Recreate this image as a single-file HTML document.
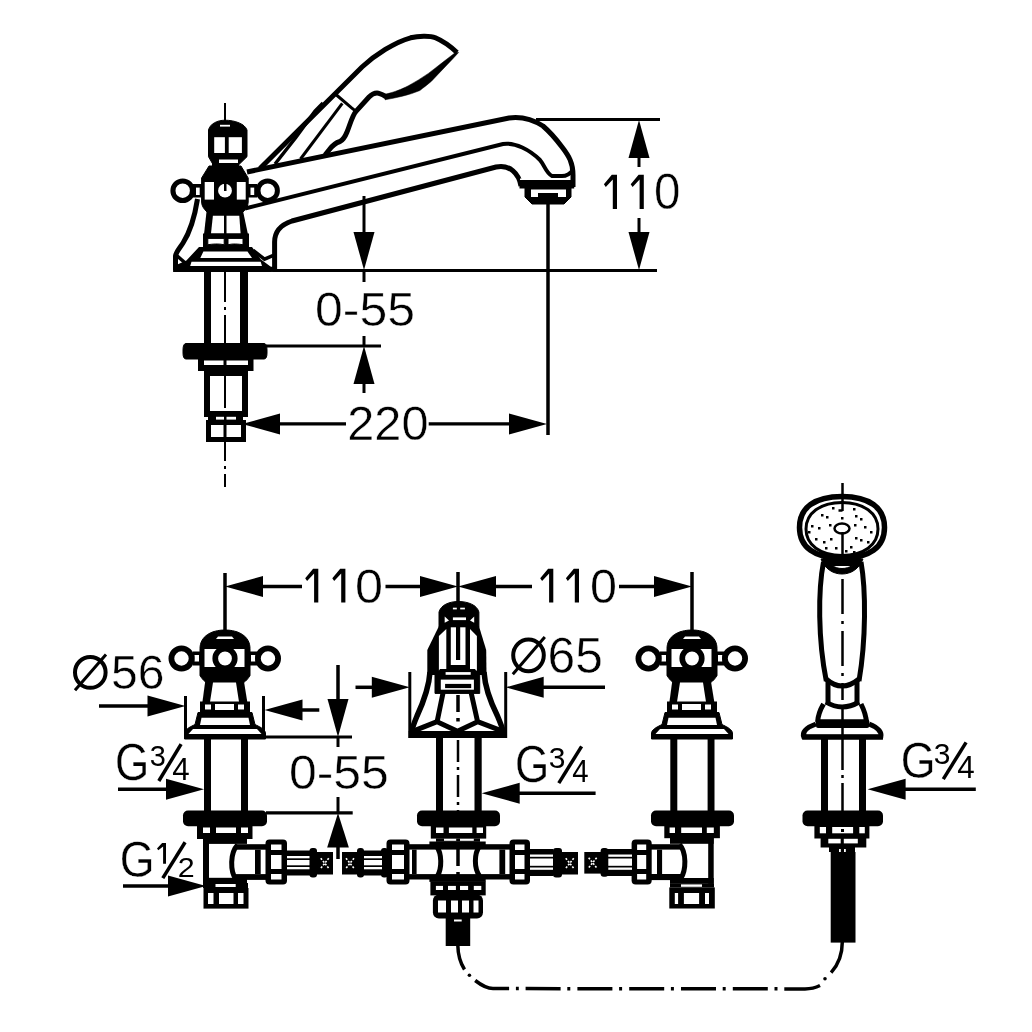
<!DOCTYPE html>
<html><head><meta charset="utf-8"><style>
html,body{margin:0;padding:0;background:#fff;width:1032px;height:1032px;overflow:hidden}
svg{display:block;will-change:transform}
text{font-family:"Liberation Sans",sans-serif;fill:#000;stroke:none}
</style></head><body>
<svg width="1032" height="1032" viewBox="0 0 1032 1032" stroke="#000" fill="none">
<line x1="225" y1="103" x2="225" y2="487" stroke-width="2" stroke-dasharray="40,5,3,5"/>
<path d="M208.5,156.7 L208.5,130 C210,124 217,120.2 225,120.2 C235,120.2 245,124 247,130 L247,156.7 L239,164.5 L213,164.5 Z" stroke-width="1" fill="#000" />
<rect x="214.2" y="137.2" width="10.700000000000017" height="15.800000000000011" fill="#fff" stroke="none"/>
<rect x="228.7" y="137.2" width="13.200000000000017" height="15.800000000000011" fill="#fff" stroke="none"/>
<rect x="220" y="124.8" width="10" height="1.7999999999999972" fill="#fff" stroke="none"/>
<rect x="212" y="158" width="27" height="10" fill="#000" stroke="none"/>
<rect x="219" y="159.5" width="19" height="3.5" fill="#fff" stroke="none"/>
<rect x="218" y="168.5" width="5" height="1.5" fill="#fff" stroke="none"/>
<rect x="227" y="168.5" width="5" height="1.5" fill="#fff" stroke="none"/>
<path d="M209,166 L241,166 L248.2,178 L248.2,202 C248.2,206 246,209 243,212 L207,212 C204,209 201.6,206 201.6,202 L201.6,178 Z" stroke-width="1" fill="#000" />
<rect x="204.7" y="182" width="9.300000000000011" height="17.599999999999994" fill="#fff" stroke="none"/>
<rect x="236.8" y="182" width="8.899999999999977" height="17.599999999999994" fill="#fff" stroke="none"/>
<circle cx="225" cy="190.7" r="6.9" fill="#fff" stroke="none"/>
<rect x="224" y="183" width="2.5" height="8" fill="#000" stroke="none"/>
<rect x="193" y="184" width="10" height="13.5" fill="#000" stroke="none"/>
<rect x="196" y="187.6" width="3.6999999999999886" height="7.400000000000006" fill="#fff" stroke="none"/>
<rect x="247" y="184" width="10" height="13.5" fill="#000" stroke="none"/>
<rect x="250.5" y="187.6" width="3.6999999999999886" height="7.400000000000006" fill="#fff" stroke="none"/>
<circle cx="182.7" cy="190.7" r="9.75" stroke-width="5.1000000000000005" fill="#fff"/>
<circle cx="267.7" cy="190.7" r="9.7" stroke-width="4.999999999999999" fill="#fff"/>
<polygon points="206.6,211 243,211 248,234.5 204,234.5" fill="#000" stroke="none"/>
<polygon points="212.9,215.7 239.3,215.7 240.6,233.4 211,233.4" fill="#fff" stroke="none"/>
<rect x="224" y="215" width="2.5" height="19" fill="#000" stroke="none"/>
<rect x="203" y="233.5" width="46" height="14.0" fill="#000" stroke="none"/>
<path d="M207.8,238.4 L224.2,238.4 L224.2,244.7 C218,243.5 213,244 207.8,244.7 Z" stroke-width="1" fill="#fff" />
<path d="M228,238.4 L243,238.4 L243,244.7 C238,244 233,243.5 228,244.7 Z" stroke-width="1" fill="#fff" />
<polygon points="199,247 252,247 260.7,259.2 270.8,266.8 272,272 173.2,272 174,266 186.4,260.5" fill="#000" stroke="none"/>
<polygon points="203.4,251.6 247.5,251.6 252,258 200.3,258" fill="#fff" stroke="none"/>
<polygon points="191.5,261.7 260.7,261.7 262,266.1 190.2,266.1" fill="#fff" stroke="none"/>
<path d="M197.5,199 C195,215 190,232 183,243 C179,249 176,252 175.5,256 L175.5,270" stroke-width="5" fill="none" />
<path d="M175.5,254.5 L187,264.5" stroke-width="3.5" fill="none" />
<path d="M274.6,272 L274.6,242 C274.6,233 280,225 292,221 L496,167 C510,164 519,174 521,186" stroke-width="5" fill="none" />
<path d="M253.2,250.4 L264.5,259.2 L273.3,255.4" stroke-width="3.5" fill="none" />
<line x1="173.2" y1="269.3" x2="277" y2="269.3" stroke-width="5" />
<line x1="276" y1="270.5" x2="657" y2="270.5" stroke-width="3" />
<path d="M247,172 L509,118 C520,116.5 532,119 543,126 C550,132 556,139 562,147 C569,156 573,163 573,175 L573,187" stroke-width="5" fill="none" />
<path d="M245,208.5 L503,144 C515,142 530,150 540,160 C545,166 546,173 552,176 L562,176 C566,176 570,174 573,170" stroke-width="4" fill="none" />
<rect x="519.5" y="180" width="54.700000000000045" height="8.5" fill="#000" stroke="none"/>
<path d="M525,188 L525,197 L532,204 L564,204 L571,197 L571,188 Z" stroke-width="1" fill="#000" />
<rect x="531" y="189.5" width="35" height="3.5" fill="#fff" stroke="none"/>
<rect x="531" y="193" width="7" height="4" fill="#fff" stroke="none"/>
<rect x="558" y="193" width="8" height="4" fill="#fff" stroke="none"/>
<rect x="520" y="178.5" width="50" height="1.5" fill="#fff" stroke="none"/>
<path d="M260,168.4 L362,67 C375,55 395,42 410.6,37.8 C418,36 430,35.5 435.4,37.8 C443,41 450,46 457,52.5" stroke-width="5" fill="none" />
<path d="M458.6,52.5 C450,62 440,72 431.5,81.2 C427,85 423,88 419.9,90.5 C410,95 395,98 385,99.8 L385,94.3 C395,92 402,89 408.3,85.8 C415,82 422,78 428.4,73.4 C438,66 447,59 455.4,52.5 Z" stroke-width="0.5" fill="#000" />
<path d="M387,97.2 C383,95 380,93 377,93 C373,93 371,95 369,97 L356,111.4 C352,116 350,125 347,132 C345,137 343,140 340,141.5 C335,143 332,146 329,150 L325,155" stroke-width="5" fill="none" />
<path d="M335.3,94 L351.6,107.9 L356,111.4" stroke-width="3" fill="none" />
<path d="M275,164 L296,137.3 L315,111.2 L323,103" stroke-width="3.5" fill="none" />
<path d="M300.5,159 L342.3,103.3" stroke-width="3" fill="none" />
<line x1="364" y1="196" x2="364" y2="232" stroke-width="3" />
<polygon points="364,270 353.5,232 374.5,232" fill="#000" stroke="none"/>
<line x1="364" y1="381" x2="364" y2="393" stroke-width="3" />
<line x1="364" y1="270" x2="364" y2="282" stroke-width="3" />
<line x1="364" y1="336" x2="364" y2="346" stroke-width="3" />
<polygon points="364,346 353.5,384 374.5,384" fill="#000" stroke="none"/>
<line x1="266" y1="346" x2="381" y2="346" stroke-width="3" />
<text transform="translate(315.00,325.82) scale(0.4995,0.4831)" font-size="100" stroke="#fff" stroke-width="0.92" style="stroke:#fff">0-55</text>
<line x1="536" y1="119.5" x2="660" y2="119.5" stroke-width="3" />
<line x1="639" y1="158" x2="639" y2="167" stroke-width="3" />
<line x1="639" y1="218" x2="639" y2="232" stroke-width="3" />
<polygon points="639,120 628.5,158 649.5,158" fill="#000" stroke="none"/>
<polygon points="639,270 628.5,232 649.5,232" fill="#000" stroke="none"/>
<polygon points="603.9,184.2 611.8,174.7 617.0,174.7 617.0,209.0 612.8,209.0 612.8,179.53 605.79,186.92999999999998" fill="#000" stroke="none"/>
<polygon points="630.7,184.2 638.6,174.7 643.8000000000001,174.7 643.8000000000001,209.0 639.6,209.0 639.6,179.53 632.59,186.92999999999998" fill="#000" stroke="none"/>
<text transform="translate(654.10,209.11) scale(0.4750,0.4915)" font-size="100" stroke="#fff" stroke-width="0.93" style="stroke:#fff">0</text>
<line x1="548" y1="194" x2="548" y2="435" stroke-width="3.5" />
<rect x="204" y="270" width="7" height="74" fill="#000" stroke="none"/>
<rect x="240" y="270" width="8" height="74" fill="#000" stroke="none"/>
<path d="M186,343.5 L264,343.5 Q267,343.5 267,350 L267,353 Q267,359 264,359 L186,359 Q183,359 183,353 L183,350 Q183,343.5 186,343.5 Z" stroke-width="1" fill="#000" />
<rect x="198" y="358" width="55.5" height="13" fill="#000" stroke="none"/>
<rect x="204" y="360.5" width="19.5" height="4.5" fill="#fff" stroke="none"/>
<rect x="226.5" y="360.5" width="21.5" height="4.5" fill="#fff" stroke="none"/>
<rect x="207.0" y="373.0" width="38" height="41" fill="none" stroke-width="6"/>
<rect x="208" y="416" width="35" height="5" fill="#000" stroke="none"/>
<rect x="216" y="416.8" width="8" height="2.8000000000000114" fill="#fff" stroke="none"/>
<rect x="226.5" y="416.8" width="9.5" height="2.8000000000000114" fill="#fff" stroke="none"/>
<rect x="208.5" y="422.5" width="35" height="17" fill="none" stroke-width="5"/>
<rect x="223.5" y="420" width="3.0" height="22" fill="#000" stroke="none"/>
<polygon points="242,424 280,413.5 280,434.5" fill="#000" stroke="none"/>
<polygon points="547,424 509,413.5 509,434.5" fill="#000" stroke="none"/>
<line x1="268" y1="423.8" x2="346" y2="423.8" stroke-width="3.2" />
<line x1="428.7" y1="423.8" x2="510" y2="423.8" stroke-width="3.2" />
<text transform="translate(347.26,440.22) scale(0.4873,0.4775)" font-size="100" stroke="#fff" stroke-width="0.93" style="stroke:#fff">220</text>
<path d="M200,675.5 L200,648.5 C200,636.5 211,630.0 225,630.0 C239,630.0 250,636.5 250,648.5 L250,675.5 C247,680.5 244,682.5 242,683.5 L208,683.5 C206,682.5 203,680.5 200,675.5 Z" stroke-width="1" fill="#000" />
<polygon points="218,636.5 232,636.5 234,639.0 216,639.0" fill="#fff" stroke="none"/>
<rect x="204.5" y="649.0" width="40.0" height="18.0" fill="#fff" stroke="none"/>
<circle cx="225" cy="658.5" r="9.75" stroke-width="5.699999999999999" fill="#fff"/>
<rect x="193" y="651.5" width="8" height="14.0" fill="#000" stroke="none"/>
<rect x="194.5" y="655.0" width="4.5" height="6.5" fill="#fff" stroke="none"/>
<rect x="249" y="651.5" width="8" height="14.0" fill="#000" stroke="none"/>
<rect x="251" y="655.0" width="4.5" height="6.5" fill="#fff" stroke="none"/>
<circle cx="181.5" cy="658.5" r="10.1" stroke-width="5.8" fill="#fff"/>
<circle cx="268" cy="658.5" r="10.1" stroke-width="5.8" fill="#fff"/>
<polygon points="206,675.5 243,675.5 249,712.5 201,712.5" fill="#000" stroke="none"/>
<polygon points="213,682.5 236,682.5 239,702.0 210,702.0" fill="#fff" stroke="none"/>
<rect x="200" y="701.5" width="50" height="11.0" fill="#000" stroke="none"/>
<rect x="205" y="704.5" width="6" height="5.0" fill="#fff" stroke="none"/>
<rect x="215" y="704.0" width="19" height="6.0" fill="#fff" stroke="none"/>
<rect x="238" y="704.5" width="6" height="5.0" fill="#fff" stroke="none"/>
<path d="M198,712.5 L252,712.5 L255,724.5 C259,726.5 264,728.5 265.5,732.5 L265.5,739.0 L184.5,739.0 L184.5,732.5 C186,728.5 191,726.5 195,724.5 Z" stroke-width="1" fill="#000" />
<polygon points="201.5,717.8 248.5,717.8 250,725.0 200,725.0" fill="#fff" stroke="none"/>
<polygon points="193,729.0 257,729.0 261.5,734.0 188.5,734.0" fill="#fff" stroke="none"/>
<path d="M667,675.5 L667,648.5 C667,636.5 678,630.0 692,630.0 C706,630.0 717,636.5 717,648.5 L717,675.5 C714,680.5 711,682.5 709,683.5 L675,683.5 C673,682.5 670,680.5 667,675.5 Z" stroke-width="1" fill="#000" />
<polygon points="685,636.5 699,636.5 701,639.0 683,639.0" fill="#fff" stroke="none"/>
<rect x="671.5" y="649.0" width="40.0" height="18.0" fill="#fff" stroke="none"/>
<circle cx="692" cy="658.5" r="9.75" stroke-width="5.699999999999999" fill="#fff"/>
<rect x="660" y="651.5" width="8" height="14.0" fill="#000" stroke="none"/>
<rect x="661.5" y="655.0" width="4.5" height="6.5" fill="#fff" stroke="none"/>
<rect x="716" y="651.5" width="8" height="14.0" fill="#000" stroke="none"/>
<rect x="718" y="655.0" width="4.5" height="6.5" fill="#fff" stroke="none"/>
<circle cx="648.5" cy="658.5" r="10.1" stroke-width="5.8" fill="#fff"/>
<circle cx="735" cy="658.5" r="10.1" stroke-width="5.8" fill="#fff"/>
<polygon points="673,675.5 710,675.5 716,712.5 668,712.5" fill="#000" stroke="none"/>
<polygon points="680,682.5 703,682.5 706,702.0 677,702.0" fill="#fff" stroke="none"/>
<rect x="667" y="701.5" width="50" height="11.0" fill="#000" stroke="none"/>
<rect x="672" y="704.5" width="6" height="5.0" fill="#fff" stroke="none"/>
<rect x="682" y="704.0" width="19" height="6.0" fill="#fff" stroke="none"/>
<rect x="705" y="704.5" width="6" height="5.0" fill="#fff" stroke="none"/>
<path d="M665,712.5 L719,712.5 L722,724.5 C726,726.5 731,728.5 732.5,732.5 L732.5,739.0 L651.5,739.0 L651.5,732.5 C653,728.5 658,726.5 662,724.5 Z" stroke-width="1" fill="#000" />
<polygon points="668.5,717.8 715.5,717.8 717,725.0 667,725.0" fill="#fff" stroke="none"/>
<polygon points="660,729.0 724,729.0 728.5,734.0 655.5,734.0" fill="#fff" stroke="none"/>
<rect x="204" y="738" width="7" height="73" fill="#000" stroke="none"/>
<rect x="241" y="738" width="7" height="73" fill="#000" stroke="none"/>
<rect x="183" y="810.5" width="84" height="15.799999999999955" rx="5" fill="#000" stroke="none"/>
<rect x="197" y="826" width="55.5" height="13" fill="#000" stroke="none"/>
<rect x="203" y="827.5" width="7" height="5.5" fill="#fff" stroke="none"/>
<rect x="216" y="827.5" width="20" height="5.5" fill="#fff" stroke="none"/>
<rect x="241" y="827.5" width="7" height="5.5" fill="#fff" stroke="none"/>
<rect x="203" y="838.8" width="44" height="5.100000000000023" fill="#000" stroke="none"/>
<rect x="203" y="877.8" width="44" height="5.800000000000068" fill="#000" stroke="none"/>
<rect x="203" y="838.8" width="6" height="44.80000000000007" fill="#000" stroke="none"/>
<rect x="203" y="883" width="45" height="5" fill="#000" stroke="none"/>
<rect x="215.5" y="884" width="20.19999999999999" height="3" fill="#fff" stroke="none"/>
<rect x="203.5" y="888" width="45.0" height="20.600000000000023" fill="#000" stroke="none"/>
<rect x="208" y="893" width="5.5" height="11" fill="#fff" stroke="none"/>
<rect x="219" y="893" width="14.5" height="11" fill="#fff" stroke="none"/>
<rect x="238" y="893" width="5.5" height="11" fill="#fff" stroke="none"/>
<rect x="235" y="844.2" width="31" height="5.5" fill="#000" stroke="none"/>
<rect x="235" y="874.1" width="31" height="5.7999999999999545" fill="#000" stroke="none"/>
<path d="M237.5,845 C230,853 230,871 236,879.5" stroke-width="5" fill="none" />
<rect x="255" y="849.7" width="5.699999999999989" height="24.399999999999977" fill="#000" stroke="none"/>
<rect x="265.5" y="839.5" width="21.5" height="45.0" rx="4" fill="#000" stroke="none"/>
<rect x="271.0" y="844.5" width="10.5" height="5.5" fill="#fff" stroke="none"/>
<rect x="271.0" y="855.0" width="10.5" height="14.0" fill="#fff" stroke="none"/>
<rect x="271.0" y="874.0" width="10.5" height="5.5" fill="#fff" stroke="none"/>
<rect x="287" y="850.5" width="23" height="25.0" fill="#000" stroke="none"/>
<rect x="287" y="856.0" width="23" height="2.2999999999999545" fill="#fff" stroke="none"/>
<rect x="287" y="860.0" width="23" height="5.2999999999999545" fill="#fff" stroke="none"/>
<rect x="287" y="867.0" width="23" height="2.2999999999999545" fill="#fff" stroke="none"/>
<rect x="309.5" y="848" width="7.5" height="29.5" rx="3" fill="#000" stroke="none"/>
<rect x="316.5" y="852" width="16.5" height="22.5" fill="#000" stroke="none"/>
<path d="M320.75,858.25 L328.75,868.25 M328.75,858.25 L320.75,868.25" stroke="#fff" stroke-width="1.6" stroke-dasharray="2,1.5"/>
<rect x="436" y="738" width="7" height="73" fill="#000" stroke="none"/>
<rect x="474.5" y="738" width="7.199999999999989" height="73" fill="#000" stroke="none"/>
<line x1="458" y1="740" x2="458" y2="811" stroke-width="2.5" stroke-dasharray="22,5,3,5"/>
<line x1="458" y1="826" x2="458" y2="836" stroke-width="2.5" />
<rect x="417" y="810.5" width="83" height="15.799999999999955" rx="5" fill="#000" stroke="none"/>
<rect x="430.8" y="826" width="55.39999999999998" height="12.600000000000023" fill="#000" stroke="none"/>
<rect x="436" y="827.5" width="7.5" height="5.5" fill="#fff" stroke="none"/>
<rect x="448.9" y="827.5" width="23.400000000000034" height="5.5" fill="#fff" stroke="none"/>
<rect x="476.6" y="827.5" width="6.399999999999977" height="5.5" fill="#fff" stroke="none"/>
<rect x="436" y="838.4" width="44" height="3.3999999999999773" fill="#000" stroke="none"/>
<rect x="444" y="838.8" width="12.199999999999989" height="2.0" fill="#fff" stroke="none"/>
<rect x="460" y="838.8" width="13.800000000000011" height="2.0" fill="#fff" stroke="none"/>
<rect x="429.4" y="841.5" width="56.30000000000001" height="5.100000000000023" fill="#000" stroke="none"/>
<rect x="429.4" y="876.8" width="56.30000000000001" height="5.100000000000023" fill="#000" stroke="none"/>
<rect x="408" y="844.2" width="102.5" height="5.399999999999977" fill="#000" stroke="none"/>
<rect x="408" y="874.1" width="102.5" height="5.399999999999977" fill="#000" stroke="none"/>
<path d="M436.5,846 C442,854 442,868 437.5,876" stroke-width="5" fill="none" />
<path d="M479.5,846 C474,854 474,868 479.5,876" stroke-width="5" fill="none" />
<rect x="412" y="849.6" width="4.600000000000023" height="24.5" fill="#000" stroke="none"/>
<rect x="499.4" y="849.6" width="5.800000000000011" height="24.5" fill="#000" stroke="none"/>
<line x1="458" y1="846" x2="458" y2="866" stroke-width="3.5" />
<line x1="458" y1="872" x2="458" y2="876" stroke-width="3.5" />
<rect x="386.5" y="839.5" width="23.0" height="45.0" rx="4" fill="#000" stroke="none"/>
<rect x="392.0" y="844.5" width="12.0" height="5.5" fill="#fff" stroke="none"/>
<rect x="392.0" y="855.0" width="12.0" height="14.0" fill="#fff" stroke="none"/>
<rect x="392.0" y="874.0" width="12.0" height="5.5" fill="#fff" stroke="none"/>
<rect x="381" y="848" width="7" height="29.5" rx="3" fill="#000" stroke="none"/>
<rect x="363" y="850.5" width="19" height="25.0" fill="#000" stroke="none"/>
<rect x="363" y="856.0" width="19" height="2.2999999999999545" fill="#fff" stroke="none"/>
<rect x="363" y="860.0" width="19" height="5.2999999999999545" fill="#fff" stroke="none"/>
<rect x="363" y="867.0" width="19" height="2.2999999999999545" fill="#fff" stroke="none"/>
<rect x="357" y="848" width="7" height="29.5" rx="3" fill="#000" stroke="none"/>
<rect x="342" y="852" width="16" height="22.5" fill="#000" stroke="none"/>
<path d="M346.0,858.25 L354.0,868.25 M354.0,858.25 L346.0,868.25" stroke="#fff" stroke-width="1.6" stroke-dasharray="2,1.5"/>
<rect x="509.5" y="839.5" width="20.5" height="45.0" rx="4" fill="#000" stroke="none"/>
<rect x="515.0" y="844.5" width="9.5" height="5.5" fill="#fff" stroke="none"/>
<rect x="515.0" y="855.0" width="9.5" height="14.0" fill="#fff" stroke="none"/>
<rect x="515.0" y="874.0" width="9.5" height="5.5" fill="#fff" stroke="none"/>
<rect x="530" y="849" width="23.5" height="27" fill="#000" stroke="none"/>
<rect x="530" y="854.5" width="23.5" height="2.2999999999999545" fill="#fff" stroke="none"/>
<rect x="530" y="858.5" width="23.5" height="7.2999999999999545" fill="#fff" stroke="none"/>
<rect x="530" y="867.5" width="23.5" height="2.2999999999999545" fill="#fff" stroke="none"/>
<rect x="553" y="848" width="9" height="29.5" rx="3" fill="#000" stroke="none"/>
<rect x="561.5" y="852" width="16.5" height="22.5" fill="#000" stroke="none"/>
<path d="M565.75,858.25 L573.75,868.25 M573.75,858.25 L565.75,868.25" stroke="#fff" stroke-width="1.6" stroke-dasharray="2,1.5"/>
<rect x="430.4" y="881.5" width="55.30000000000001" height="13.899999999999977" fill="#000" stroke="none"/>
<rect x="435.9" y="885.9" width="7.100000000000023" height="4.100000000000023" fill="#fff" stroke="none"/>
<rect x="448" y="885.9" width="7.899999999999977" height="4.100000000000023" fill="#fff" stroke="none"/>
<rect x="460" y="885.9" width="8.100000000000023" height="4.100000000000023" fill="#fff" stroke="none"/>
<rect x="473.8" y="885.9" width="7.5" height="4.100000000000023" fill="#fff" stroke="none"/>
<rect x="432.9" y="894.5" width="50.10000000000002" height="24.0" rx="6" fill="#000" stroke="none"/>
<rect x="438" y="900.5" width="8" height="12.0" fill="#fff" stroke="none"/>
<rect x="451" y="900.5" width="7" height="12.0" fill="#fff" stroke="none"/>
<rect x="462" y="900.5" width="7" height="12.0" fill="#fff" stroke="none"/>
<rect x="473.5" y="900.5" width="5.0" height="12.0" fill="#fff" stroke="none"/>
<rect x="445.7" y="917" width="24.5" height="29" fill="#000" stroke="none"/>
<rect x="454" y="919.5" width="7.699999999999989" height="2.0" fill="#fff" stroke="none"/>
<rect x="670.3" y="738" width="7.0" height="73" fill="#000" stroke="none"/>
<rect x="707.6" y="738" width="6.899999999999977" height="73" fill="#000" stroke="none"/>
<rect x="651" y="810.5" width="83" height="15.799999999999955" rx="5" fill="#000" stroke="none"/>
<rect x="664.3" y="826" width="55.60000000000002" height="12.200000000000045" fill="#000" stroke="none"/>
<rect x="669.6" y="827.5" width="5.399999999999977" height="5.5" fill="#fff" stroke="none"/>
<rect x="681.2" y="827.5" width="20.799999999999955" height="5.5" fill="#fff" stroke="none"/>
<rect x="706.8" y="827.5" width="7.0" height="5.5" fill="#fff" stroke="none"/>
<rect x="670" y="838" width="43.700000000000045" height="5.7999999999999545" fill="#000" stroke="none"/>
<rect x="670" y="878" width="43.700000000000045" height="5.7999999999999545" fill="#000" stroke="none"/>
<rect x="708.2" y="838" width="5.5" height="45.799999999999955" fill="#000" stroke="none"/>
<rect x="651" y="844.2" width="30" height="5.399999999999977" fill="#000" stroke="none"/>
<rect x="651" y="874" width="30" height="6.100000000000023" fill="#000" stroke="none"/>
<path d="M679.5,844.5 C686.5,852 686.5,870 680.5,879" stroke-width="5" fill="none" />
<rect x="657" y="849.6" width="5.100000000000023" height="24.399999999999977" fill="#000" stroke="none"/>
<rect x="670" y="883.5" width="44" height="4.0" fill="#000" stroke="none"/>
<rect x="681" y="884.4" width="21" height="2.3999999999999773" fill="#fff" stroke="none"/>
<rect x="669.3" y="887.4" width="45.5" height="21.100000000000023" fill="#000" stroke="none"/>
<rect x="674.8" y="893" width="3.300000000000068" height="11" fill="#fff" stroke="none"/>
<rect x="683.9" y="893" width="15.200000000000045" height="11" fill="#fff" stroke="none"/>
<rect x="705" y="893" width="4" height="11" fill="#fff" stroke="none"/>
<rect x="631.6" y="839.5" width="20.100000000000023" height="45.0" rx="4" fill="#000" stroke="none"/>
<rect x="637.1" y="844.5" width="9.100000000000023" height="5.5" fill="#fff" stroke="none"/>
<rect x="637.1" y="855.0" width="9.100000000000023" height="14.0" fill="#fff" stroke="none"/>
<rect x="637.1" y="874.0" width="9.100000000000023" height="5.5" fill="#fff" stroke="none"/>
<rect x="606" y="849" width="26" height="27" fill="#000" stroke="none"/>
<rect x="606" y="854.5" width="26" height="2.2999999999999545" fill="#fff" stroke="none"/>
<rect x="606" y="858.5" width="26" height="7.2999999999999545" fill="#fff" stroke="none"/>
<rect x="606" y="867.5" width="26" height="2.2999999999999545" fill="#fff" stroke="none"/>
<rect x="600.6" y="848" width="7.699999999999932" height="28.700000000000045" rx="3" fill="#000" stroke="none"/>
<rect x="584.3" y="852" width="16.700000000000045" height="21.600000000000023" fill="#000" stroke="none"/>
<path d="M588.65,857.8 L596.65,867.8 M596.65,857.8 L588.65,867.8" stroke="#fff" stroke-width="1.6" stroke-dasharray="2,1.5"/>
<path d="M457.8,945 C458,957 461,964 464.5,969.5" stroke-width="3.5" fill="none" />
<circle cx="469.4" cy="975.3" r="1.8" fill="#000" stroke="none"/>
<path d="M475.2,980.5 C481,985 486,988.5 493,988.5 L509.1,988.5" stroke-width="3.5" fill="none" />
<line x1="515.9" y1="988.5" x2="518.8" y2="988.5" stroke-width="3.5" />
<path d="M525.6,988.6 L784.3,988.8" stroke-width="3.5" stroke-dasharray="35,6.7,3,7.1"/>
<path d="M784.3,988.9 L805,988.9 C812,988.9 816,987.5 820,985.5" stroke-width="3.5" fill="none" />
<circle cx="825" cy="978.8" r="1.8" fill="#000" stroke="none"/>
<path d="M831.1,972.6 C838,965 842.3,955 842.3,942" stroke-width="3.5" fill="none" />
<path d="M439,627.5 L439,612 C441,605 449,601.5 458.5,601.5 C468,601.5 477,605 478.9,612 L478.9,627.5 Z" stroke-width="1" fill="#000" />
<rect x="452.9" y="607.7" width="3.900000000000034" height="1.6999999999999318" fill="#fff" stroke="none"/>
<rect x="460.2" y="607.7" width="4.699999999999989" height="1.6999999999999318" fill="#fff" stroke="none"/>
<rect x="452.9" y="617.4" width="13.100000000000023" height="2.7000000000000455" fill="#fff" stroke="none"/>
<polygon points="444.7,616.6 449,620.5 444.7,622.8" fill="#fff" stroke="none"/>
<polygon points="474.2,616.6 470,620.5 474.2,622.8" fill="#fff" stroke="none"/>
<polygon points="439,626 478.9,626 486.2,650 486.5,675 427.3,675 427.3,650" fill="#000" stroke="none"/>
<polygon points="446.3,629 446.3,671 438.9,671 438.9,636" fill="#fff" stroke="none"/>
<polygon points="470,629 470,671 476.9,671 476.9,636" fill="#fff" stroke="none"/>
<rect x="450.8" y="627.3" width="14.699999999999989" height="37.700000000000045" fill="#fff" stroke="none"/>
<rect x="456" y="625" width="4.199999999999989" height="35" fill="#000" stroke="none"/>
<path d="M430,672 C429,688 423,703 417,716 C414.5,722 412.5,727 411.5,732" stroke-width="5.5" fill="none" />
<path d="M484,672 C485,688 491,703 497.5,716 C500,722 502,727 503.5,732" stroke-width="5.5" fill="none" />
<path d="M435,693.4 L435,674.8 L440,669.5 L475,669.5 L479.7,674.8 L479.7,693.4 Z" stroke-width="1" fill="#000" />
<rect x="440.8" y="679.6" width="33.099999999999966" height="10.100000000000023" fill="#fff" stroke="none"/>
<rect x="445.1" y="683.9" width="26.099999999999966" height="4.2000000000000455" fill="#000" stroke="none"/>
<rect x="445.6" y="672.1" width="25.099999999999966" height="2.699999999999932" fill="#fff" stroke="none"/>
<path d="M443,693 L437.1,721.7 L412.6,731.3 M437.1,721.7 L457.5,731.3 M471.2,693 L477.6,721.7 L503,731.3 M477.6,721.7 L457.5,731.3" stroke-width="5" fill="none" />
<rect x="408.7" y="731" width="98.10000000000002" height="7" fill="#000" stroke="none"/>
<line x1="458" y1="695" x2="458" y2="712" stroke-width="3.5" />
<line x1="458" y1="718" x2="458" y2="721.5" stroke-width="3.5" />
<path d="M799.5,527.4 C799.5,507.56 814.8,496.4 842,496.4 C869.2,496.4 884.5,507.56 884.5,527.4 C884.5,547.24 869.2,558.4 842,558.4 C814.8,558.4 799.5,547.24 799.5,527.4 Z" fill="#fff" stroke-width="5.5"/>
<path d="M806,529 C806,513.1 820.4,502.5 842,502.5 C863.6,502.5 878,513.1 878,529 C878,544.9 863.6,555.5 842,555.5 C820.4,555.5 806,544.9 806,529 Z" fill="#fff" stroke-width="3"/>
<line x1="842.5" y1="483" x2="842.5" y2="511" stroke-width="2.5" />
<line x1="838.5" y1="510.5" x2="842.5" y2="510.5" stroke-width="2.5" />
<ellipse cx="842" cy="528.5" rx="7.5" ry="5" fill="#fff" stroke-width="2.5"/>
<line x1="842.5" y1="532" x2="842.5" y2="559" stroke-width="2.5" />
<rect x="832" y="507" width="2.5" height="2.5" fill="#000" stroke="none"/>
<rect x="821" y="514" width="2.5" height="2.5" fill="#000" stroke="none"/>
<rect x="826" y="516" width="2.5" height="2.5" fill="#000" stroke="none"/>
<rect x="853" y="508" width="2.5" height="2.5" fill="#000" stroke="none"/>
<rect x="855" y="515" width="2.5" height="2.5" fill="#000" stroke="none"/>
<rect x="860" y="518" width="2.5" height="2.5" fill="#000" stroke="none"/>
<rect x="811" y="525" width="2.5" height="2.5" fill="#000" stroke="none"/>
<rect x="818" y="527" width="2.5" height="2.5" fill="#000" stroke="none"/>
<rect x="829" y="524" width="2.5" height="2.5" fill="#000" stroke="none"/>
<rect x="854" y="524" width="2.5" height="2.5" fill="#000" stroke="none"/>
<rect x="864" y="526" width="2.5" height="2.5" fill="#000" stroke="none"/>
<rect x="870" y="531" width="2.5" height="2.5" fill="#000" stroke="none"/>
<rect x="815" y="538" width="2.5" height="2.5" fill="#000" stroke="none"/>
<rect x="823" y="541" width="2.5" height="2.5" fill="#000" stroke="none"/>
<rect x="830" y="538" width="2.5" height="2.5" fill="#000" stroke="none"/>
<rect x="855" y="537" width="2.5" height="2.5" fill="#000" stroke="none"/>
<rect x="860" y="539" width="2.5" height="2.5" fill="#000" stroke="none"/>
<rect x="867" y="541" width="2.5" height="2.5" fill="#000" stroke="none"/>
<rect x="825" y="547" width="2.5" height="2.5" fill="#000" stroke="none"/>
<rect x="835" y="547" width="2.5" height="2.5" fill="#000" stroke="none"/>
<rect x="850" y="546" width="2.5" height="2.5" fill="#000" stroke="none"/>
<rect x="853" y="551" width="2.5" height="2.5" fill="#000" stroke="none"/>
<rect x="845" y="550" width="2.5" height="2.5" fill="#000" stroke="none"/>
<rect x="841" y="517" width="2.5" height="2.5" fill="#000" stroke="none"/>
<rect x="836" y="555" width="2.5" height="2.5" fill="#000" stroke="none"/>
<rect x="808" y="531" width="2.5" height="2.5" fill="#000" stroke="none"/>
<path d="M821,559 L863,559 C859,569 851,574 842,574 C833,574 825,569 821,559 Z" stroke-width="1" fill="#000" />
<path d="M832.7,565.5 L852.4,565.5 C849,567.5 846,568.5 842,568.5 C838,568.5 835,567.5 832.7,565.5 Z" stroke-width="1" fill="#fff" />
<path d="M823.5,562 C818,590 818,640 826.3,681 M861,562 C866,590 866,640 859,681" stroke-width="5" fill="none" />
<line x1="842.5" y1="579" x2="842.5" y2="700" stroke-width="2.5" stroke-dasharray="35,7,3,7"/>
<path d="M826,679 Q842,693 859,679" stroke-width="5" fill="none" />
<path d="M828,680 L828,705 M857,680 L857,705" stroke-width="5" fill="none" />
<path d="M826,702 Q842,712 859,702" stroke-width="5" fill="none" />
<line x1="842.5" y1="708" x2="842.5" y2="740" stroke-width="2.5" />
<path d="M823.5,704 C820,710 818,715 817.6,722 M861,704 C864,710 866,715 866.4,722" stroke-width="5" fill="none" />
<rect x="816" y="719.2" width="53.200000000000045" height="8.799999999999955" rx="2" fill="#000" stroke="none"/>
<path d="M816,724 C805,728 802,732 803.8,737 L880.8,737 C882,732 879,728 869,724" stroke-width="5" fill="none" />
<rect x="802.5" y="734.4" width="80.5" height="5.100000000000023" fill="#000" stroke="none"/>
<rect x="821" y="738" width="7" height="73" fill="#000" stroke="none"/>
<rect x="859" y="738" width="7" height="73" fill="#000" stroke="none"/>
<line x1="842.5" y1="740" x2="842.5" y2="811" stroke-width="2.5" stroke-dasharray="30,5,3,5"/>
<rect x="802.5" y="810.5" width="80.5" height="15.799999999999955" rx="5" fill="#000" stroke="none"/>
<rect x="814.4" y="826" width="55.0" height="12.5" fill="#000" stroke="none"/>
<rect x="819.8" y="827" width="6.2000000000000455" height="6.2999999999999545" fill="#fff" stroke="none"/>
<rect x="832.2" y="827" width="20.899999999999977" height="6.2999999999999545" fill="#fff" stroke="none"/>
<rect x="859.3" y="827" width="5.5" height="6.2999999999999545" fill="#fff" stroke="none"/>
<rect x="841" y="829" width="3" height="3" fill="#000" stroke="none"/>
<rect x="820.6" y="838" width="45.69999999999993" height="9.5" fill="#000" stroke="none"/>
<rect x="828.3" y="838.8" width="12.400000000000091" height="4.600000000000023" fill="#fff" stroke="none"/>
<rect x="843.8" y="838.8" width="14.0" height="4.600000000000023" fill="#fff" stroke="none"/>
<rect x="829" y="847" width="26" height="5" fill="#000" stroke="none"/>
<rect x="839" y="849" width="1.7999999999999545" height="3.5" fill="#fff" stroke="none"/>
<rect x="844" y="849" width="1.7999999999999545" height="3.5" fill="#fff" stroke="none"/>
<rect x="830.7" y="852" width="24.799999999999955" height="90.60000000000002" fill="#000" stroke="none"/>
<line x1="225" y1="573" x2="225" y2="631" stroke-width="3.5" />
<line x1="458" y1="572" x2="458" y2="604" stroke-width="3.5" />
<line x1="692" y1="572" x2="692" y2="631" stroke-width="3.5" />
<polygon points="225,586.5 263,576.0 263,597.0" fill="#000" stroke="none"/>
<polygon points="458,586.5 420,576.0 420,597.0" fill="#000" stroke="none"/>
<polygon points="458,586.5 496,576.0 496,597.0" fill="#000" stroke="none"/>
<polygon points="692,586.5 654,576.0 654,597.0" fill="#000" stroke="none"/>
<line x1="262" y1="586.5" x2="302" y2="586.5" stroke-width="3.5" />
<line x1="385.5" y1="586.5" x2="422" y2="586.5" stroke-width="3.5" />
<line x1="494" y1="586.5" x2="532" y2="586.5" stroke-width="3.5" />
<line x1="619" y1="586.5" x2="656" y2="586.5" stroke-width="3.5" />
<polygon points="305.2,578.2 313.1,568.7 318.3,568.7 318.3,602.5 314.1,602.5 314.1,573.5300000000001 307.09,580.9300000000001" fill="#000" stroke="none"/>
<polygon points="332.3,578.2 340.20000000000005,568.7 345.40000000000003,568.7 345.40000000000003,602.5 341.20000000000005,602.5 341.20000000000005,573.5300000000001 334.19,580.9300000000001" fill="#000" stroke="none"/>
<text transform="translate(354.98,602.62) scale(0.5042,0.4845)" font-size="100" stroke="#fff" stroke-width="0.91" style="stroke:#fff">0</text>
<polygon points="540.2,578.2 548.1,568.7 553.3000000000001,568.7 553.3000000000001,602.5 549.1,602.5 549.1,573.5300000000001 542.09,580.9300000000001" fill="#000" stroke="none"/>
<polygon points="565.9,578.2 573.8,568.7 579.0,568.7 579.0,602.5 574.8,602.5 574.8,573.5300000000001 567.79,580.9300000000001" fill="#000" stroke="none"/>
<text transform="translate(590.06,602.62) scale(0.4854,0.4845)" font-size="100" stroke="#fff" stroke-width="0.93" style="stroke:#fff">0</text>
<line x1="185.5" y1="696" x2="185.5" y2="738" stroke-width="3" />
<line x1="263.5" y1="696" x2="263.5" y2="738" stroke-width="3" />
<line x1="99" y1="706" x2="150" y2="706" stroke-width="3.5" />
<polygon points="185.5,706 147.5,695.5 147.5,716.5" fill="#000" stroke="none"/>
<polygon points="264.5,710 302.5,699.5 302.5,720.5" fill="#000" stroke="none"/>
<line x1="300" y1="710" x2="319.3" y2="710" stroke-width="3.5" />
<ellipse cx="90.3" cy="672.4" rx="15.299999999999997" ry="15.399999999999977" stroke-width="4" fill="none"/>
<line x1="75" y1="690.3" x2="106" y2="654.6" stroke-width="3" />
<text transform="translate(111.08,689.32) scale(0.4806,0.4803)" font-size="100" stroke="#fff" stroke-width="0.94" style="stroke:#fff">56</text>
<line x1="338" y1="665" x2="338" y2="702" stroke-width="3.5" />
<polygon points="338,737 327.5,699 348.5,699" fill="#000" stroke="none"/>
<line x1="338" y1="737" x2="338" y2="747" stroke-width="3" />
<line x1="265" y1="737" x2="352" y2="737" stroke-width="3" />
<line x1="266" y1="812.9" x2="352.7" y2="812.9" stroke-width="3.4" />
<polygon points="338,812.9 327.15,847.5 348.85,847.5" fill="#000" stroke="none"/>
<line x1="338" y1="846" x2="338" y2="859" stroke-width="3.5" />
<line x1="338" y1="797" x2="338" y2="813" stroke-width="3" />
<text transform="translate(288.90,789.31) scale(0.4995,0.4887)" font-size="100" stroke="#fff" stroke-width="0.91" style="stroke:#fff">0-55</text>
<line x1="409.8" y1="672" x2="409.8" y2="738" stroke-width="3" />
<line x1="505.7" y1="672" x2="505.7" y2="738" stroke-width="3" />
<line x1="355.5" y1="687.3" x2="375" y2="687.3" stroke-width="3.5" />
<polygon points="409.8,687.3 371.8,676.8 371.8,697.8" fill="#000" stroke="none"/>
<polygon points="505.7,687.3 543.7,676.8 543.7,697.8" fill="#000" stroke="none"/>
<line x1="540" y1="687.3" x2="605" y2="687.3" stroke-width="3.5" />
<ellipse cx="528.5" cy="655.35" rx="15.299999999999983" ry="15.850000000000023" stroke-width="4" fill="none"/>
<line x1="512.8" y1="674.2" x2="544.8" y2="636.9" stroke-width="3" />
<text transform="translate(547.51,672.70) scale(0.4971,0.4958)" font-size="100" stroke="#fff" stroke-width="0.91" style="stroke:#fff">65</text>
<text transform="translate(114.90,779.99) scale(0.4400,0.5113)" font-size="100" stroke="#fff" stroke-width="0.63" style="stroke:#fff">G</text>
<text transform="translate(172.17,779.91) scale(0.3137,0.3074)" font-size="100">4</text>
<text transform="translate(149.84,766.20) scale(0.2894,0.3000)" font-size="100">3</text>
<line x1="158.8" y1="781" x2="181.1" y2="744.2" stroke-width="3.5" />
<line x1="118" y1="789.3" x2="170" y2="789.3" stroke-width="3.5" />
<polygon points="204,789.3 166,778.8 166,799.8" fill="#000" stroke="none"/>
<text transform="translate(119.86,877.10) scale(0.4477,0.4972)" font-size="100" stroke="#fff" stroke-width="0.64" style="stroke:#fff">G</text>
<text transform="translate(177.78,876.70) scale(0.3043,0.2771)" font-size="100">2</text>
<polygon points="157,848.4 162.1,843.1 166,843.1 166,863.7 163.1,863.7 163.1,846.4350000000001 158.305,850.285" fill="#000" stroke="none"/>
<line x1="162.8" y1="878.1" x2="185.1" y2="842.3" stroke-width="3.5" />
<line x1="123" y1="885.9" x2="175" y2="885.9" stroke-width="3.5" />
<polygon points="206,885.9 168,875.4 168,896.4" fill="#000" stroke="none"/>
<text transform="translate(514.90,782.09) scale(0.4400,0.5113)" font-size="100" stroke="#fff" stroke-width="0.63" style="stroke:#fff">G</text>
<text transform="translate(572.21,782.01) scale(0.2941,0.3147)" font-size="100">4</text>
<text transform="translate(548.80,768.30) scale(0.3000,0.3000)" font-size="100">3</text>
<line x1="558.8" y1="783.1" x2="581.6" y2="746.3" stroke-width="3.5" />
<polygon points="481.7,793.3 519.7,782.8 519.7,803.8" fill="#000" stroke="none"/>
<line x1="515" y1="793.3" x2="595.6" y2="793.3" stroke-width="3.5" />
<text transform="translate(900.86,777.60) scale(0.4477,0.5042)" font-size="100" stroke="#fff" stroke-width="0.63" style="stroke:#fff">G</text>
<text transform="translate(957.17,777.91) scale(0.3137,0.3059)" font-size="100">4</text>
<text transform="translate(933.80,764.30) scale(0.3000,0.3014)" font-size="100">3</text>
<line x1="943.3" y1="779.1" x2="966.1" y2="742.3" stroke-width="3.5" />
<polygon points="867.6,789.3 905.6,778.8 905.6,799.8" fill="#000" stroke="none"/>
<line x1="900" y1="789.3" x2="975.8" y2="789.3" stroke-width="3.5" />
</svg>
</body></html>
